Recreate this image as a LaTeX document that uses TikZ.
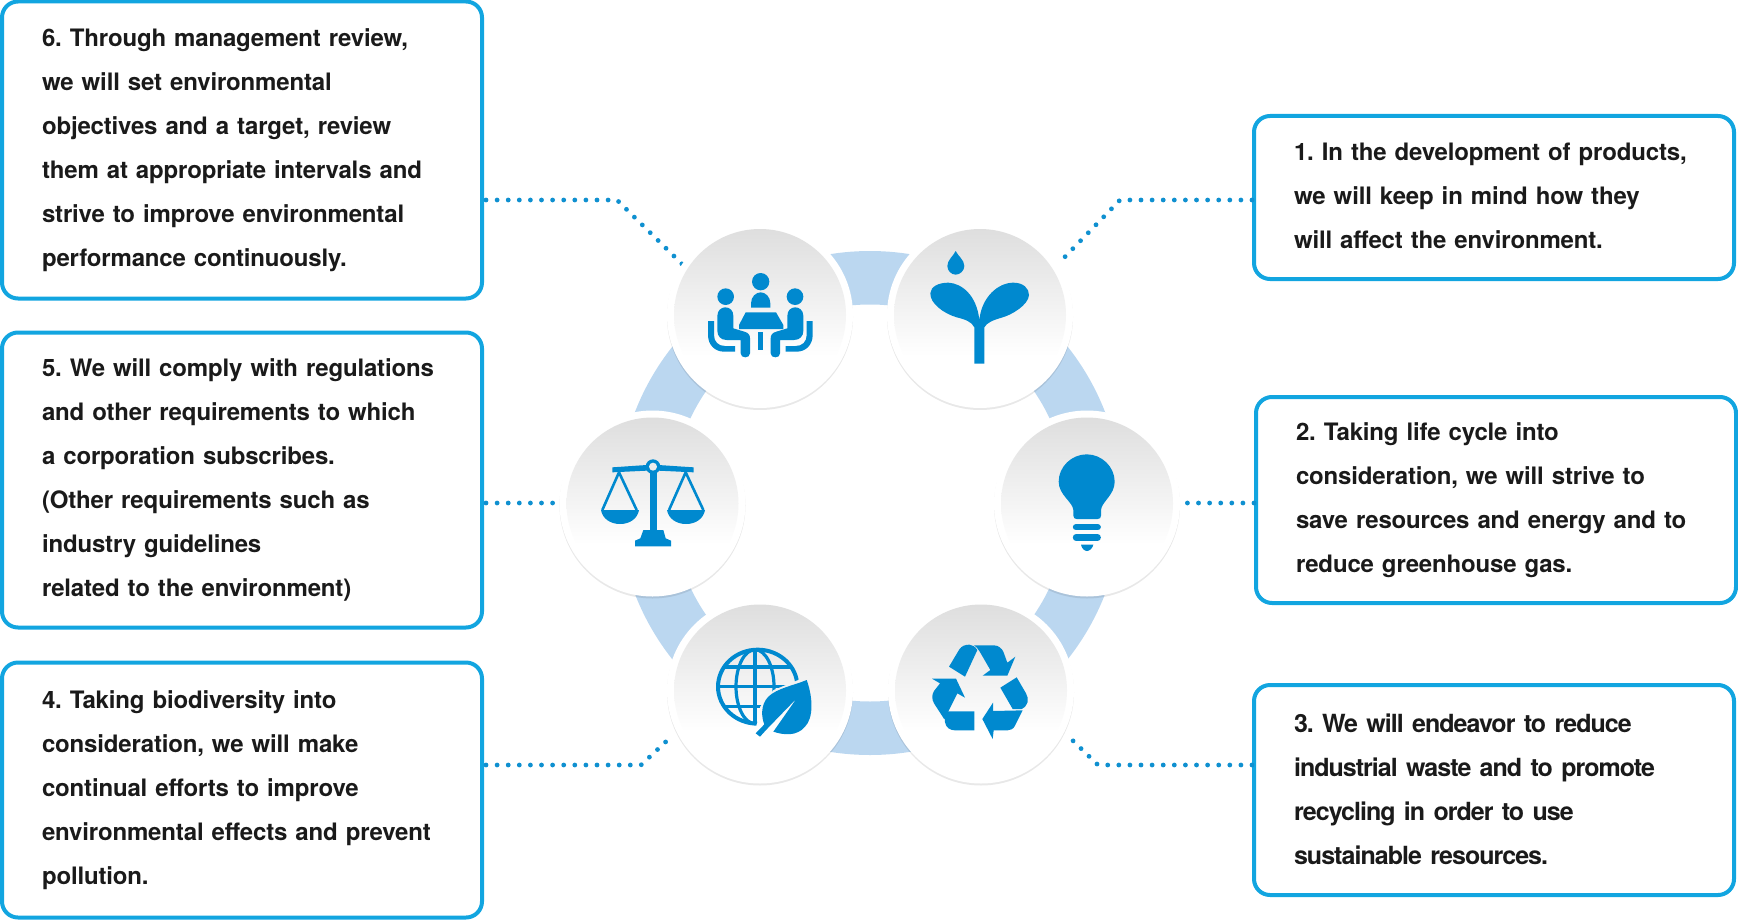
\documentclass[tikz,border=0pt]{standalone}
\usepackage{fontspec}
\setmainfont{TeX Gyre Heros}
\usepackage{xcolor}
\usetikzlibrary{positioning, calc}
\definecolor{boxcyan}{HTML}{12A5E0}
\definecolor{dotblue}{HTML}{0F90D0}
\definecolor{iconblue}{HTML}{0089CF}
\definecolor{ringblue}{HTML}{BBD7F0}
\definecolor{discgray}{HTML}{DEDEDE}
\definecolor{textdark}{HTML}{1A1A1A}
\pgfdeclareverticalshading{discshade}{100bp}{color(0bp)=(white); color(38bp)=(white); color(75bp)=(discgray); color(100bp)=(discgray)}
\frenchspacing
\tikzset{
  policybox/.style={
    draw=boxcyan, line width=2pt, rounded corners=8pt, fill=white, align=left,
    text width=200pt, inner xsep=20pt, inner ysep=0pt, outer sep=0pt,
    font=\fontsize{12}{22}\selectfont\bfseries\addfontfeature{LetterSpace=-0.7}, text=textdark
  },
  dotline/.style={draw=dotblue, line width=2.4pt, line cap=round, dash pattern=on 0pt off 5.55pt},
  ringband/.style={circle, draw=ringblue, line width=26.75pt, minimum size=225.25pt, inner sep=0pt},
  discshadow/.style={circle, fill=black, fill opacity=0.09, minimum size=93pt, inner sep=0pt},
  discback/.style={circle, fill=white, minimum size=93pt, inner sep=0pt},
  discface/.style={circle, shading=discshade, minimum size=86pt, inner sep=0pt},
  iconfill/.style={fill=iconblue},
  iconline/.style={draw=iconblue, line join=round},
  seatedperson/.pic={
    \fill[iconfill] (77,110) circle (25);
    \fill[iconfill] (52,168) .. controls (52,150) and (65,142) .. (76,142) .. controls (90,142) and (100,152) .. (100,168) -- (100,205) -- (133,215) .. controls (145,218) and (150,225) .. (150,235) -- (150,280) .. controls (150,288) and (143,292) .. (136,292) .. controls (128,292) and (122,288) .. (122,280) -- (122,240) -- (80,240) .. controls (62,240) and (52,228) .. (52,212) -- cycle;
    \fill[iconfill] (24,183) -- (42,183) -- (42,225) .. controls (42,245) and (55,258) .. (75,258) -- (105,258) -- (105,275) -- (72,275) .. controls (45,275) and (24,255) .. (24,225) -- cycle;
  },
}
\begin{document}
\begin{tikzpicture}[x=0.5pt, y=-0.5pt]
  \useasboundingbox (0,0) rectangle (1738,920);

  \node[ringband] (ring) at (870,503) {};

  \coordinate (bend6) at (617,200);
  \coordinate (end6) at (682,264);
  \coordinate (bend1) at (1120,200);
  \coordinate (end1) at (1058,264);
  \coordinate (level5) at (554,503);
  \coordinate (level2) at (1186,503);
  \coordinate (bend4) at (641,765);
  \coordinate (end4) at (673,735);
  \coordinate (bend3) at (1098,765);
  \coordinate (end3) at (1066,734);

  \node[policybox, minimum height=148.5pt] (box6) at (242,150) {6. Through management review,\\we will set environmental\\objectives and a target, review\\them at appropriate intervals and\\strive to improve environmental\\performance continuously.};
  \node[policybox, minimum height=147.5pt] (box5) at (242,480) {5. We will comply with regulations\\and other requirements to which\\a corporation subscribes.\\(Other requirements such as\\industry guidelines\\related to the environment)};
  \node[policybox, minimum height=127.5pt] (box4) at (242,790) {4. Taking biodiversity into\\consideration, we will make\\continual efforts to improve\\environmental effects and prevent\\pollution.};
  \node[policybox, minimum height=81.5pt] (box1) at (1494,197.5) {1. In the development of products,\\we will keep in mind how they\\will affect the environment.\rule[-2pt]{0pt}{0pt}};
  \node[policybox, minimum height=103pt] (box2) at (1496,500) {2. Taking life cycle into\\consideration, we will strive to\\save resources and energy and to\\reduce greenhouse gas.};
  \node[policybox, minimum height=105pt, font=\fontsize{12.5}{22}\selectfont\bfseries\addfontfeature{LetterSpace=-3.9}] (box3) at (1494,790) {3. We will endeavor to reduce\\industrial waste and to promote\\recycling in order to use\\sustainable resources.\rule[-1pt]{0pt}{0pt}};

  \draw[dotline, shorten <=2pt] (box6.east |- bend6) -- (bend6) -- (end6);
  \draw[dotline, shorten <=2pt] (box5.east |- level5) -- (level5);
  \draw[dotline, shorten <=2pt] (box4.east |- bend4) -- (bend4) -- (end4);
  \draw[dotline, shorten <=1pt] (box1.west |- bend1) -- (bend1) -- (end1);
  \draw[dotline, shorten <=1pt] (box2.west |- level2) -- (level2);
  \draw[dotline, shorten <=1pt] (box3.west |- bend3) -- (bend3) -- (end3);

  \node[discshadow] at (760,317) {};
  \node[discshadow] at (980,317) {};
  \node[discshadow] at (652.5,505.5) {};
  \node[discshadow] at (1087,505.5) {};
  \node[discshadow] at (760,692.5) {};
  \node[discshadow] at (981,692.5) {};
  \node[discback] (disc6) at (760,315) {};
  \node[discback] (disc1) at (980,315) {};
  \node[discback] (disc5) at (652.5,503.5) {};
  \node[discback] (disc2) at (1087,503.5) {};
  \node[discback] (disc4) at (760,690.5) {};
  \node[discback] (disc3) at (981,690.5) {};
  \node[discface] (face6) at (disc6) {};
  \node[discface] (face1) at (disc1) {};
  \node[discface] (face5) at (disc5) {};
  \node[discface] (face2) at (disc2) {};
  \node[discface] (face4) at (disc4) {};
  \node[discface] (face3) at (disc3) {};

  \begin{scope}[shift={(700,260)}, x=0.16667pt, y=-0.16667pt]
    \fill[iconfill] (182,65) circle (26);
    \fill[iconfill] (153,143) -- (153,130) .. controls (153,110) and (168,97) .. (182,97) .. controls (196,97) and (211,110) .. (211,130) -- (211,143) -- cycle;
    \fill[iconfill] (137,157) -- (228,157) -- (250,195) -- (250,207) -- (117,207) -- (117,195) -- cycle;
    \fill[iconfill] (173,217) rectangle (190,270);
    \pic at (0,0) {seatedperson};
    \pic[xscale=-1] at (362,0) {seatedperson};
  \end{scope}

  \begin{scope}[shift={(920,240)}, x=0.16667pt, y=-0.16667pt]
    \fill[iconfill] (107,33) .. controls (100,48) and (82,60) .. (82,78) .. controls (82,92) and (94,104) .. (107,104) .. controls (120,104) and (133,92) .. (133,78) .. controls (133,60) and (114,48) .. (107,33) -- cycle;
    \fill[iconfill] (163,371) -- (163,262) .. controls (155,245) and (135,238) .. (110,232) .. controls (70,220) and (30,190) .. (31,160) .. controls (32,140) and (55,128) .. (85,128) .. controls (125,130) and (170,165) .. (178,240) .. controls (185,170) and (235,128) .. (280,128) .. controls (310,128) and (327,145) .. (327,165) .. controls (325,195) and (275,225) .. (245,233) .. controls (220,240) and (200,248) .. (193,262) -- (193,371) -- cycle;
  \end{scope}

  \begin{scope}[shift={(595,450)}, x=0.16667pt, y=-0.16667pt]
    \fill[iconfill] (52,52) -- (155,45) -- (190,45) -- (296,52) -- (296,67) -- (190,62) -- (155,62) -- (52,67) -- cycle;
    \fill[iconfill] (165,60) rectangle (185,242);
    \fill[iconfill] (145,240) -- (205,240) -- (212,265) -- (228,272) -- (228,289) -- (120,289) -- (120,272) -- (136,265) -- cycle;
    \fill[iconfill] (174,50) circle (22);
    \fill[discgray!55] (174,50) circle (12);
    \draw[iconline, line width=1.3pt] (22,180) -- (72,67) -- (125,180);
    \draw[iconline, line width=1.3pt] (222,180) -- (272,67) -- (325,180);
    \fill[iconfill] (18,180) -- (132,180) .. controls (128,205) and (105,222) .. (75,222) .. controls (45,222) and (22,205) .. (18,180) -- cycle;
    \fill[iconfill] (216,180) -- (330,180) .. controls (326,205) and (303,222) .. (273,222) .. controls (243,222) and (220,205) .. (216,180) -- cycle;
  \end{scope}

  \begin{scope}[shift={(1030,445)}, x=0.16667pt, y=-0.16667pt]
    \fill[iconfill] (130,212) .. controls (130,219) and (135,222) .. (140,222) -- (203,222) .. controls (209,222) and (213,219) .. (213,212) -- (213,195) .. controls (215,170) and (254,150) .. (254,110) .. controls (254,65) and (215,28) .. (170,28) .. controls (125,28) and (86,65) .. (86,110) .. controls (86,150) and (128,170) .. (130,195) -- cycle;
    \draw[iconline, line width=3.2pt, line cap=round] (138,246.5) -- (203,246.5);
    \draw[iconline, line width=3.2pt, line cap=round] (138,277.5) -- (203,277.5);
    \fill[iconfill] (153,299) -- (190,299) .. controls (188,310) and (178,318) .. (171,318) .. controls (163,318) and (155,310) .. (153,299) -- cycle;
  \end{scope}

  \begin{scope}[shift={(705,635)}, x=0.16667pt, y=-0.16667pt]
    \begin{scope}
      \clip (20,20) -- (296,20) -- (296,128) -- (205,165) -- (165,215) -- (155,268) -- (150,290) -- (20,290) -- cycle;
      \draw[iconline, line width=2pt] (158,155) ellipse (119 and 111);
      \clip (158,155) ellipse (119 and 111);
      \draw[iconline, line width=1.6pt] (150,155) ellipse (57 and 111);
      \draw[iconline, line width=1.6pt] (150,41) -- (150,270);
      \draw[iconline, line width=1.6pt] (30,96) -- (290,96);
      \draw[iconline, line width=1.6pt] (30,155) -- (290,155);
      \draw[iconline, line width=1.6pt] (30,215) -- (290,215);
    \end{scope}
    \fill[iconfill] (305,135) .. controls (325,190) and (325,250) .. (300,275) .. controls (275,305) and (235,300) .. (205,290) -- (275,190) -- (185,283) -- (165,305) -- (152,295) -- (178,268) .. controls (170,250) and (165,210) .. (190,185) .. controls (215,160) and (270,150) .. (305,135) -- cycle;
  \end{scope}

  \begin{scope}[shift={(920,635)}, x=0.16667pt, y=-0.16667pt]
    \fill[iconfill] (87,95) -- (118,43) .. controls (125,33) and (135,29) .. (148,29) .. controls (158,29) and (165,35) .. (172,45) -- (135,125) -- cycle;
    \fill[iconfill] (162,31) -- (222,31) .. controls (235,31) and (245,40) .. (250,50) -- (262,83) -- (286,65) -- (262,122) -- (188,122) -- (211,105) -- (178,48) .. controls (172,40) and (168,33) .. (162,31) -- cycle;
    \fill[iconfill] (241,158) -- (290,127) -- (318,175) .. controls (328,192) and (325,212) .. (305,222) -- (278,222) -- cycle;
    \fill[iconfill] (187,252) -- (219,203) -- (219,228) -- (308,226) -- (285,272) .. controls (280,282) and (272,286) .. (262,286) -- (221,286) -- (218,312) -- cycle;
    \fill[iconfill] (163,229) -- (163,286) -- (105,286) .. controls (90,286) and (78,278) .. (75,262) .. controls (73,250) and (75,240) .. (83,229) -- cycle;
    \fill[iconfill] (36,131) -- (108,131) -- (135,188) -- (112,175) -- (73,253) -- (42,205) .. controls (35,192) and (35,180) .. (42,168) -- (60,145) -- cycle;
  \end{scope}
\end{tikzpicture}
\end{document}
